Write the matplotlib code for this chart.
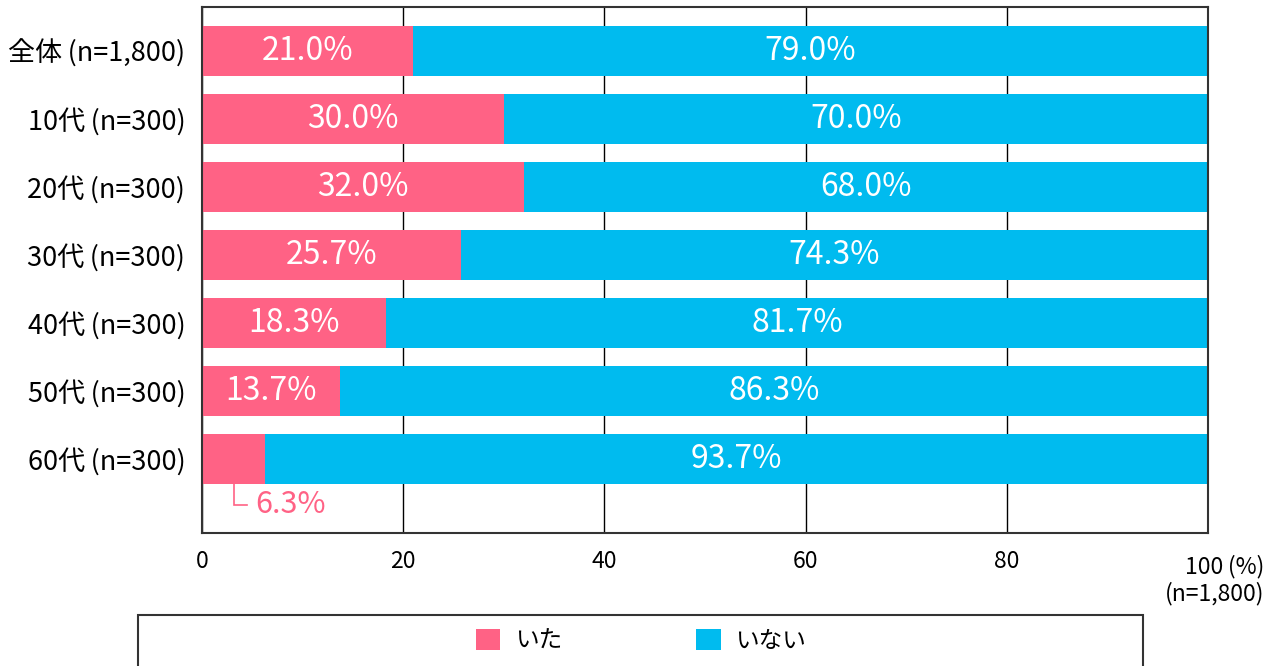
import matplotlib
matplotlib.use("Agg")
from matplotlib import pyplot as plt
from matplotlib import patches as patches

categories = ["全体\u2009(n=1,800)", "10代\u2009(n=300)", "20代\u2009(n=300)", "30代\u2009(n=300)",
              "40代\u2009(n=300)", "50代\u2009(n=300)", "60代\u2009(n=300)"]
ita = [21.0, 30.0, 32.0, 25.7, 18.3, 13.7, 6.3]
inai = [79.0, 70.0, 68.0, 74.3, 81.7, 86.3, 93.7]
series_names = ["いた", "いない"]
xticks = [0, 20, 40, 60, 80, 100]

pink = "#FF6285"
blue = "#00BBEF"

plt.rcParams["font.family"] = ["Noto Sans CJK JP", "DejaVu Sans"]

fig = plt.figure(figsize=(12.75, 6.66), dpi=100)
ax = fig.add_axes([202/1275, 1-533/666, 1006/1275, 526/666])

y = list(range(len(categories)))
h = 50/68
b1 = ax.barh(y, ita, height=h, color=pink, zorder=2, label=series_names[0])
b2 = ax.barh(y, inai, left=ita, height=h, color=blue, zorder=2, label=series_names[1])

for i, (a, n) in enumerate(zip(ita, inai)):
    if a >= 10:
        ax.text(a/2, i, f"{a:.1f}%", ha="center", va="center", color="white", fontsize=23)
    else:
        # small value: label below the bar with a bracket line
        ax.plot([a/2, a/2, a/2 + 1.3], [i + h/2, i + 0.676, i + 0.676],
                color=pink, lw=1.2, zorder=3, solid_joinstyle="miter")
        ax.text(a/2 + 2.1, i + 0.676, f"{a:.1f}%", ha="left", va="center",
                color=pink, fontsize=22)
    ax.text(a + n/2, i, f"{n:.1f}%", ha="center", va="center", color="white", fontsize=23)

ax.set_xlim(0, 100)
ax.set_ylim(6 + 74/68, -44/68)
ax.set_yticks(y)
ax.set_yticklabels(categories, fontsize=19.5)
ax.set_xticks(xticks)
ax.set_xticklabels([str(t) if t != 100 else "" for t in xticks], fontsize=16.5)
ax.tick_params(axis="both", length=0)
ax.tick_params(axis="y", pad=12)
ax.tick_params(axis="x", pad=12)
ax.grid(axis="x", color="black", lw=1, zorder=0)
for s in ax.spines.values():
    s.set_color("#333333")
    s.set_linewidth(1.5)

ax.text((1264-202)/1006, -22/526, "100\u2009(%)\n(n=1,800)", transform=ax.transAxes,
        ha="right", va="top", fontsize=16.5, linespacing=1.15)

# legend frame
fig.patches.append(patches.Rectangle((138/1275, -0.05), 1005/1275, 0.05 + 1 - 615/666,
                                     transform=fig.transFigure, fill=False,
                                     edgecolor="#333333", lw=1.5))
fig.legend(handles=[b1, b2], loc="center", bbox_to_anchor=(641/1275, 1 - 641/666),
           ncol=2, frameon=False, fontsize=17, handlelength=1.05, handleheight=1.0,
           handletextpad=0.6, columnspacing=5.7)

plt.savefig("out.png", dpi=100)
